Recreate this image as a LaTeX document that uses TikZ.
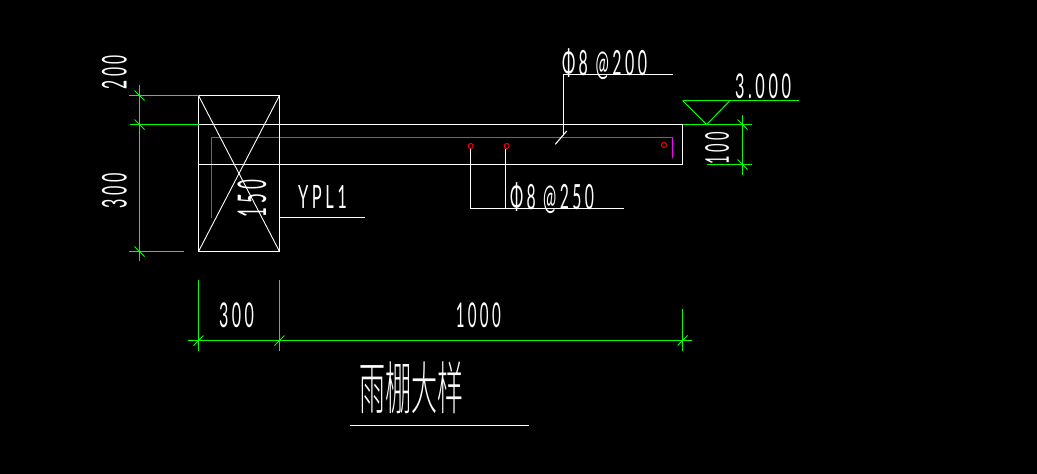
\documentclass[tikz,border=0pt]{standalone}
\usepackage{fontspec}
\usepackage{graphicx}
\newfontfamily\cadfont[LetterSpace=22]{Lato}
\newfontfamily\cadcjk{Noto Sans CJK SC Light}
\definecolor{cadgreen}{RGB}{0,255,0}
\definecolor{cadmag}{RGB}{255,0,255}
\definecolor{cadred}{RGB}{255,0,0}
\newcommand{\fit}[3]{\resizebox*{#1pt}{#2pt}{\cadfont\fontsize{20}{20}\selectfont #3}}
\newcommand{\fitcjk}[3]{\resizebox*{#1pt}{#2pt}{\cadcjk\fontsize{20}{20}\selectfont #3}}
\tikzset{
  wire/.style={draw=white,line width=1.1pt},
  thinwire/.style={draw=white,line width=0.9pt},
  dim/.style={draw=cadgreen,line width=1.1pt},
  tickmark/.style={draw=cadgreen,line width=1pt},
  rebar/.style={draw=cadmag,line width=1.1pt},
  bar/.style={draw=cadred,line width=1pt},
  lbl/.style={inner sep=0pt,outer sep=0pt,text=white,anchor=center}
}
\begin{document}
\begin{tikzpicture}[x=1pt,y=-1pt]
\useasboundingbox (0,0) rectangle (1037,474);
\fill[black] (0,0) rectangle (1037,474);
% rebar
\draw[rebar] (211.5,217.5) -- (211.5,137.5) -- (672.5,137.5) -- (672.5,158);
\foreach \cx/\cy in {470.7/146,506.7/146,664/145}
  \draw[bar] (\cx,\cy) circle (2.5);
% column
\draw[wire] (198.5,95.5) rectangle (279.5,251.5);
\draw[thinwire] (198.5,95.5) -- (279.5,251.5);
\draw[thinwire] (279.5,95.5) -- (198.5,251.5);
% beam
\draw[wire] (198.5,124.5) -- (682.5,124.5) -- (682.5,164.5) -- (198.5,164.5);
% left dimension
\draw[dim] (139.5,85) -- (139.5,261);
\draw[dim] (129,95.5) -- (198.5,95.5);
\draw[dim] (130,124.5) -- (198.5,124.5);
\draw[dim] (129,251.5) -- (184,251.5);
\foreach \ty in {95.5,124.5,251.5}
  \draw[tickmark] (134.5,\ty-5) -- (144.5,\ty+5);
% right dimension and level mark
\draw[dim] (682.5,124.5) -- (751.7,124.5);
\draw[dim] (707,164.5) -- (751.7,164.5);
\draw[dim] (742.5,115) -- (742.5,175);
\foreach \ty in {124.5,164.5}
  \draw[tickmark] (737.5,\ty-5) -- (747.5,\ty+5);
\draw[dim] (799,100.5) -- (682.5,100.5);
\draw[tickmark] (682.5,100.5) -- (706.7,124.5) -- (730,100.5);
% bottom dimension
\draw[dim] (188,340.5) -- (691.7,340.5);
\draw[dim] (198.5,280) -- (198.5,350.7);
\draw[dim] (279.5,280) -- (279.5,350.7);
\draw[dim] (682.5,309.3) -- (682.5,350.7);
\foreach \tx in {198.5,279.5,682.5}
  \draw[tickmark] (\tx-5,345.5) -- (\tx+5,335.5);
% leaders
\draw[wire] (672.7,74.5) -- (563.5,74.5) -- (563.5,135);
\draw[wire] (555.3,144.3) -- (566.7,131);
\draw[wire] (470.5,148.5) -- (470.5,208.5) -- (623.7,208.5);
\draw[wire] (505.5,148.5) -- (505.5,208.5);
\draw[wire] (279.5,217.5) -- (365,217.5);
\draw[wire] (350,425.5) -- (529,425.5);
% labels
\node[lbl,rotate=90] (d200) at (114.5,72) {\fit{34}{25}{200}};
\node[lbl,rotate=90] (d300l) at (114.5,190.5) {\fit{35}{25}{300}};
\node[lbl,rotate=90] (d150) at (252,198.5) {\fit{37}{29}{150}};
\node[lbl] (ypl) at (322.5,196.5) {\fit{49}{23}{YPL1}};
\node[lbl] (top) at (604.5,64) {\fit{85}{31}{Φ8 @200}};
\node[lbl] (bot) at (552,197.7) {\fit{84}{31}{Φ8 @250}};
\node[lbl] (lev) at (763,86.5) {\fit{56}{25}{3.000}};
\node[lbl,rotate=90] (d100) at (717,148) {\fit{32}{24}{100}};
\node[lbl] (d300b) at (236.5,315) {\fit{35}{25}{300}};
\node[lbl] (d1000) at (478.3,315) {\fit{45}{25}{1000}};
\node[lbl] (title) at (411,388) {\fitcjk{104}{52}{雨棚大样}};
\end{tikzpicture}
\end{document}
